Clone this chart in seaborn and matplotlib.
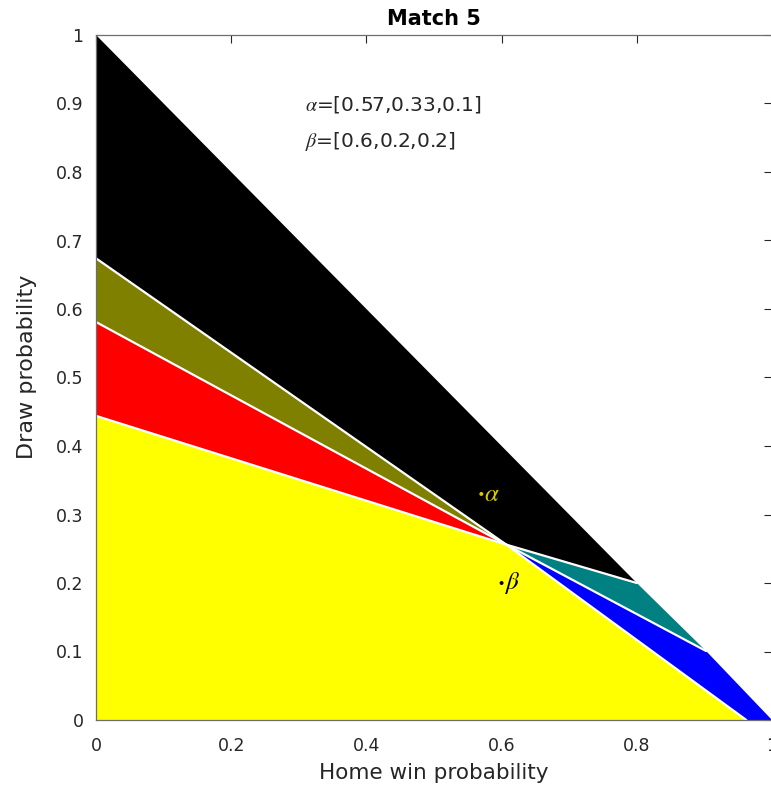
import matplotlib
matplotlib.use("Agg")
import matplotlib.pyplot as plt
import seaborn as sns
import pandas as pd

# ---- data ----
title = "Match 5"
x_label = "Home win probability"
y_label = "Draw probability"
x_ticks = [0, 0.2, 0.4, 0.6, 0.8, 1]
x_tick_labels = ["0", "0.2", "0.4", "0.6", "0.8", "1"]
y_ticks = [0, 0.1, 0.2, 0.3, 0.4, 0.5, 0.6, 0.7, 0.8, 0.9, 1]
y_tick_labels = ["0", "0.1", "0.2", "0.3", "0.4", "0.5", "0.6", "0.7", "0.8", "0.9", "1"]

# region polygons (home win prob, draw prob)
black_x = [0, 0, 0.607, 0.80]
black_y = [1, 0.674, 0.256, 0.20]
olive_x = [0, 0, 0.607]
olive_y = [0.674, 0.581, 0.256]
red_x = [0, 0, 0.607]
red_y = [0.581, 0.444, 0.256]
yellow_x = [0, 0, 0.962, 0.607]
yellow_y = [0.444, 0, 0, 0.256]
teal_x = [0.607, 0.80, 0.9025]
teal_y = [0.256, 0.20, 0.1007]
blue_x = [0.607, 0.9025, 1.0, 0.962]
blue_y = [0.256, 0.1007, 0.0, 0.0]

region_colors = ["#000000", "#808000", "#ff0000", "#ffff00", "#008080", "#0000ff"]

# decision boundaries (white separators)
line1_x = [0, 0.607, 0.962]
line1_y = [0.674, 0.256, 0.0]
line2_x = [0, 0.607, 0.9025]
line2_y = [0.581, 0.256, 0.1007]
line3_x = [0, 0.607, 0.80]
line3_y = [0.444, 0.256, 0.20]

# alpha / beta points
point_names = ["alpha", "beta"]
point_home = [0.57, 0.60]
point_draw = [0.33, 0.20]
point_colors = ["#d8cc00", "#000000"]
point_glyphs = [r"$\alpha$", r"$\beta$"]
alpha_text = r"$\alpha$=[0.57,0.33,0.1]"
beta_text = r"$\beta$=[0.6,0.2,0.2]"

# ---- drawing ----
sns.set_style("white")
plt.rcParams["font.family"] = ["DejaVu Sans"]
plt.rcParams["mathtext.fontset"] = "stix"

fig = plt.figure(figsize=(7.71, 7.92), dpi=100)
ax = fig.add_axes([96 / 771, 72 / 792, 676 / 771, 685 / 792])

polys = [(black_x, black_y), (olive_x, olive_y), (red_x, red_y),
         (yellow_x, yellow_y), (teal_x, teal_y), (blue_x, blue_y)]
for (px, py), c in zip(polys, region_colors):
    ax.fill(px, py, color=c, lw=0, zorder=1)

for lx, ly in [(line1_x, line1_y), (line2_x, line2_y), (line3_x, line3_y)]:
    ax.plot(lx, ly, color="white", lw=1.6, zorder=2)

pts = pd.DataFrame({"name": point_names, "home": point_home, "draw": point_draw})
sns.scatterplot(data=pts, x="home", y="draw", hue="name",
                palette=point_colors, s=8, linewidth=0, legend=False, ax=ax, zorder=3)
for g, hx, dy, c in zip(point_glyphs, point_home, point_draw, point_colors):
    ax.text(hx + 0.004, dy, g, color=c, fontsize=18, ha="left", va="center", zorder=4)

ax.text(0.309, 0.899, alpha_text, fontsize=14.5, color="#262626", ha="left", va="center")
ax.text(0.309, 0.845, beta_text, fontsize=14.5, color="#262626", ha="left", va="center")

ax.set_xlim(0, 1)
ax.set_ylim(0, 1)
ax.set_xticks(x_ticks)
ax.set_xticklabels(x_tick_labels)
ax.set_yticks(y_ticks)
ax.set_yticklabels(y_tick_labels)
ax.tick_params(direction="in", length=6, width=0.8, colors="#262626",
               labelsize=12.5, top=True, right=True, pad=9)
ax.tick_params(axis="x", pad=12)
for sp in ax.spines.values():
    sp.set_visible(True)
    sp.set_color("#6e6e6e")
    sp.set_linewidth(0.9)
    sp.set_zorder(5)

ax.set_xlabel(x_label, fontsize=15.5, color="#262626", labelpad=6)
ax.set_ylabel(y_label, fontsize=16, color="#262626")
ax.yaxis.set_label_coords(-0.088, 0.515)
ax.set_title(title, fontsize=15, fontweight="bold", color="#000000", pad=7)

fig.savefig("out.png", dpi=100)
